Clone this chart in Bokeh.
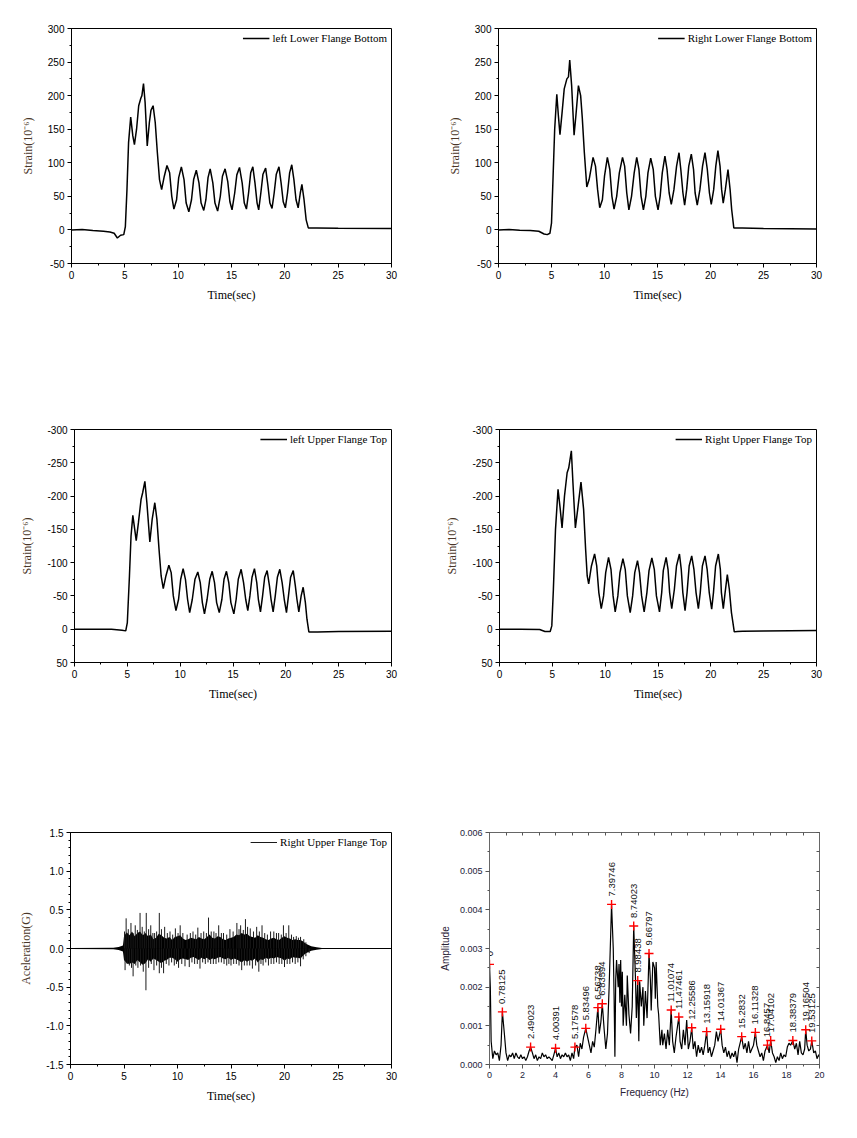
import math
from bokeh.plotting import figure
from bokeh.layouts import column, row
from bokeh.models import (Legend, LegendItem, LinearAxis, Range1d, SingleIntervalTicker,
                          PrintfTickFormatter, CustomJSTickFormatter)
from bokeh.core.properties import value
from bokeh.embed import file_html
from bokeh.resources import INLINE

SERIF = "Liberation Serif"
SANS = "Liberation Sans"
YLAB_COLOR = "#4a3628"

# ---------------- data ----------------
left_lower_flange_bottom = [
    (0, 0), (1, 0.5), (2, -1), (3, -2), (3.6, -3), (4.0, -5), (4.3, -12), (4.6, -8), (4.9, -7),
    (5.05, 5), (5.2, 60), (5.35, 130), (5.55, 168), (5.75, 140), (5.9, 127), (6.1, 150), (6.3, 185),
    (6.5, 196), (6.6, 200), (6.75, 218), (6.9, 190), (7.1, 125), (7.3, 160), (7.45, 178), (7.65, 185),
    (7.85, 160), (8.05, 115), (8.25, 75), (8.45, 60), (8.7, 80), (8.95, 96), (9.2, 85), (9.4, 50),
    (9.6, 31), (9.85, 45), (10.05, 78), (10.3, 94), (10.55, 75), (10.75, 40), (11.0, 27), (11.25, 45),
    (11.45, 75), (11.7, 89), (11.95, 70), (12.15, 40), (12.4, 29), (12.6, 45), (12.8, 78), (13.0, 91),
    (13.25, 70), (13.45, 40), (13.7, 28), (13.95, 50), (14.15, 80), (14.4, 91), (14.65, 72), (14.85, 42),
    (15.05, 30), (15.3, 55), (15.5, 82), (15.75, 93), (16.0, 70), (16.2, 40), (16.4, 31), (16.6, 55),
    (16.8, 85), (17.0, 94), (17.2, 70), (17.4, 40), (17.55, 30), (17.75, 55), (17.95, 83), (18.2, 92),
    (18.4, 68), (18.6, 40), (18.8, 32), (19.0, 55), (19.2, 83), (19.45, 94), (19.65, 70), (19.85, 42),
    (20.05, 33), (20.25, 55), (20.45, 85), (20.65, 97), (20.85, 75), (21.05, 45), (21.25, 33),
    (21.45, 55), (21.6, 68), (21.8, 45), (22.0, 15), (22.2, 3), (22.4, 3), (23, 3), (25, 2.5), (30, 2),
]

right_lower_flange_bottom = [
    (0, 0), (1, 0.5), (2, -0.5), (3, -1), (3.8, -2), (4.3, -6), (4.6, -7), (4.85, -5), (5.0, 10),
    (5.15, 80), (5.3, 150), (5.5, 202), (5.65, 170), (5.8, 142), (6.0, 175), (6.2, 210), (6.45, 225),
    (6.6, 228), (6.72, 253), (6.9, 215), (7.13, 141), (7.3, 170), (7.54, 215), (7.75, 200), (7.9, 168),
    (8.1, 115), (8.33, 64), (8.55, 75), (8.92, 108), (9.15, 95), (9.35, 60), (9.55, 33), (9.8, 45),
    (10.0, 80), (10.27, 108), (10.5, 90), (10.7, 50), (10.9, 31), (11.15, 50), (11.4, 85), (11.7, 108),
    (11.9, 95), (12.1, 55), (12.3, 30), (12.55, 50), (12.8, 85), (13.04, 108), (13.25, 90), (13.45, 50),
    (13.67, 30), (13.9, 50), (14.1, 85), (14.36, 107), (14.6, 90), (14.8, 50), (15.05, 30), (15.25, 50),
    (15.45, 85), (15.7, 110), (15.9, 90), (16.1, 55), (16.3, 38), (16.55, 60), (16.8, 95), (17.03, 115),
    (17.2, 90), (17.4, 55), (17.56, 37), (17.75, 60), (17.95, 95), (18.19, 113), (18.4, 90), (18.55, 55),
    (18.75, 37), (19.0, 60), (19.25, 95), (19.48, 115), (19.7, 90), (19.9, 55), (20.07, 38), (20.3, 60),
    (20.5, 95), (20.7, 118), (20.9, 95), (21.05, 60), (21.2, 40), (21.4, 60), (21.65, 90), (21.85, 60),
    (22.0, 30), (22.2, 3), (22.5, 3), (23, 3), (25, 2), (30, 1.5),
]

left_upper_flange_top = [
    (0, 0), (2, 0), (3.5, 0), (4.5, 1.5), (4.85, 2.5), (5.0, -10), (5.2, -80), (5.35, -140), (5.52, -171),
    (5.7, -150), (5.84, -133), (6.05, -160), (6.3, -195), (6.45, -205), (6.66, -222), (6.85, -190),
    (7.13, -131), (7.35, -165), (7.6, -190), (7.8, -165), (8.0, -120), (8.2, -80), (8.4, -61), (8.65, -80),
    (8.93, -96), (9.15, -85), (9.35, -50), (9.6, -28), (9.85, -45), (10.05, -75), (10.28, -91), (10.5, -75),
    (10.7, -45), (10.9, -25), (11.15, -45), (11.4, -75), (11.67, -86), (11.9, -70), (12.1, -40), (12.3, -23),
    (12.55, -45), (12.8, -75), (13.03, -87), (13.25, -70), (13.45, -40), (13.7, -25), (13.95, -45),
    (14.15, -75), (14.38, -87), (14.6, -70), (14.8, -40), (15.08, -23), (15.3, -45), (15.5, -75),
    (15.77, -90), (16.0, -70), (16.2, -45), (16.4, -28), (16.6, -50), (16.8, -78), (17.03, -91),
    (17.25, -70), (17.4, -45), (17.6, -26), (17.8, -50), (18.0, -78), (18.23, -88), (18.45, -65),
    (18.6, -45), (18.8, -26), (19.0, -50), (19.2, -78), (19.43, -90), (19.65, -70), (19.85, -45),
    (20.06, -25), (20.25, -50), (20.45, -78), (20.7, -88), (20.9, -65), (21.05, -45), (21.23, -26),
    (21.45, -50), (21.64, -63), (21.85, -40), (22.0, -15), (22.18, 4), (22.5, 4), (23, 4), (25, 3.5), (30, 3),
]

right_upper_flange_top = [
    (0, 0), (2, 0), (3.8, 0.5), (4.3, 3.5), (4.8, 3.5), (4.95, -5), (5.1, -60), (5.3, -150), (5.54, -210),
    (5.75, -180), (5.92, -152), (6.15, -200), (6.4, -235), (6.55, -242), (6.8, -268), (6.95, -220),
    (7.18, -152), (7.4, -180), (7.71, -221), (7.96, -180), (8.15, -120), (8.3, -80), (8.44, -68), (8.7, -95),
    (9.0, -113), (9.2, -95), (9.4, -55), (9.63, -31), (9.85, -50), (10.05, -85), (10.32, -108), (10.55, -90),
    (10.75, -50), (10.95, -26), (11.2, -50), (11.4, -85), (11.68, -106), (11.9, -90), (12.1, -50),
    (12.37, -25), (12.6, -50), (12.8, -85), (13.06, -103), (13.25, -85), (13.45, -50), (13.69, -26),
    (13.95, -55), (14.15, -88), (14.42, -107), (14.65, -90), (14.85, -50), (15.14, -26), (15.35, -55),
    (15.5, -88), (15.77, -108), (15.95, -90), (16.1, -55), (16.3, -31), (16.55, -60), (16.75, -95),
    (17.03, -113), (17.2, -90), (17.35, -55), (17.56, -28), (17.75, -55), (17.95, -95), (18.19, -110),
    (18.4, -90), (18.6, -55), (18.82, -31), (19.0, -55), (19.2, -95), (19.45, -110), (19.65, -90),
    (19.85, -55), (20.08, -30), (20.25, -55), (20.45, -95), (20.71, -113), (20.9, -90), (21.0, -55),
    (21.18, -31), (21.35, -55), (21.56, -82), (21.75, -60), (21.95, -25), (22.22, 4), (22.5, 3.5),
    (23, 3), (25, 2.5), (30, 2),
]

# acceleration: dense core band (time, upper, lower) and individual spikes (time, peak)
accel_core = [
    (0, 0.005, -0.005), (4.0, 0.01, -0.01), (4.5, 0.02, -0.02), (4.9, 0.04, -0.04), (5.0, 0.16, -0.15),
    (5.25, 0.21, -0.19), (5.5, 0.17, -0.2), (5.75, 0.22, -0.18), (6.0, 0.16, -0.2), (6.25, 0.2, -0.15),
    (6.5, 0.22, -0.18), (6.75, 0.17, -0.21), (7.0, 0.2, -0.19), (7.25, 0.16, -0.14), (7.5, 0.18, -0.17),
    (7.75, 0.12, -0.13), (8.0, 0.14, -0.15), (8.25, 0.19, -0.17), (8.5, 0.17, -0.19), (8.75, 0.14, -0.16),
    (9.0, 0.13, -0.15), (9.25, 0.15, -0.12), (9.5, 0.11, -0.12), (9.75, 0.15, -0.14), (10, 0.16, -0.17),
    (10.25, 0.17, -0.14), (10.5, 0.13, -0.13), (10.75, 0.11, -0.14), (11, 0.12, -0.15), (11.25, 0.14, -0.12),
    (11.5, 0.13, -0.11), (11.75, 0.12, -0.13), (12, 0.15, -0.15), (12.25, 0.13, -0.12), (12.5, 0.12, -0.14),
    (12.75, 0.15, -0.12), (13, 0.18, -0.15), (13.25, 0.14, -0.13), (13.5, 0.13, -0.14), (13.75, 0.16, -0.12),
    (14, 0.15, -0.11), (14.25, 0.12, -0.13), (14.5, 0.11, -0.14), (14.75, 0.13, -0.12), (15, 0.14, -0.15),
    (15.25, 0.15, -0.13), (15.5, 0.18, -0.14), (15.75, 0.17, -0.16), (16, 0.2, -0.18), (16.25, 0.18, -0.15),
    (16.5, 0.19, -0.17), (16.75, 0.16, -0.15), (17, 0.15, -0.16), (17.25, 0.14, -0.13), (17.5, 0.17, -0.18),
    (17.75, 0.15, -0.14), (18, 0.14, -0.15), (18.25, 0.12, -0.12), (18.5, 0.11, -0.14), (18.75, 0.13, -0.12),
    (19, 0.14, -0.13), (19.25, 0.12, -0.11), (19.5, 0.11, -0.12), (19.75, 0.14, -0.13), (20, 0.16, -0.16),
    (20.25, 0.14, -0.13), (20.5, 0.13, -0.14), (20.75, 0.11, -0.11), (21, 0.12, -0.12), (21.25, 0.11, -0.12),
    (21.5, 0.11, -0.13), (21.75, 0.09, -0.09), (22, 0.06, -0.06), (22.5, 0.03, -0.03),
    (23, 0.015, -0.015), (23.5, 0.008, -0.008), (24, 0.005, -0.005), (30, 0.003, -0.003),
]
accel_spikes_up = [
    (5.05, 0.22), (5.2, 0.39), (5.4, 0.25), (5.65, 0.33), (5.85, 0.2), (6.05, 0.30), (6.25, 0.24),
    (6.5, 0.46), (6.7, 0.28), (6.9, 0.22), (7.08, 0.46), (7.3, 0.25), (7.5, 0.30), (7.7, 0.2), (7.86, 0.2),
    (8.05, 0.22), (8.3, 0.46), (8.5, 0.25), (8.8, 0.28), (9.05, 0.2), (9.3, 0.22), (9.55, 0.18), (9.8, 0.26),
    (10.05, 0.2), (10.25, 0.30), (10.5, 0.2), (10.9, 0.18), (11.2, 0.2), (11.45, 0.22), (11.7, 0.18),
    (11.9, 0.27), (12.2, 0.2), (12.45, 0.22), (12.7, 0.2), (12.9, 0.40), (13.15, 0.22), (13.4, 0.22),
    (13.6, 0.2), (13.85, 0.30), (14.1, 0.2), (14.3, 0.20), (14.6, 0.18), (14.9, 0.25), (15.2, 0.22),
    (15.55, 0.33), (15.75, 0.25), (15.9, 0.30), (16.15, 0.24), (16.35, 0.38), (16.55, 0.28), (16.8, 0.26),
    (17.1, 0.22), (17.4, 0.28), (17.65, 0.22), (17.9, 0.30), (18.15, 0.2), (18.4, 0.18), (18.7, 0.22),
    (19.0, 0.22), (19.25, 0.2), (19.45, 0.20), (19.7, 0.18), (19.9, 0.30), (20.15, 0.2), (20.4, 0.30),
    (20.65, 0.18), (20.85, 0.15), (21.1, 0.16), (21.3, 0.14), (21.5, 0.15), (21.8, 0.12), (22.0, 0.08),
]
accel_spikes_down = [
    (5.1, -0.28), (5.3, -0.2), (5.5, -0.22), (5.7, -0.25), (5.85, -0.36), (6.1, -0.22), (6.3, -0.25),
    (6.55, -0.22), (6.8, -0.30), (7.05, -0.54), (7.3, -0.25), (7.55, -0.2), (7.8, -0.28), (8.05, -0.22),
    (8.3, -0.32), (8.5, -0.25), (8.7, -0.32), (8.95, -0.2), (9.2, -0.22), (9.45, -0.18), (9.7, -0.22),
    (9.9, -0.2), (10.1, -0.25), (10.4, -0.2), (10.7, -0.23), (11.1, -0.24), (11.35, -0.18), (11.6, -0.20),
    (11.85, -0.2), (12.1, -0.26), (12.35, -0.18), (12.6, -0.20), (12.85, -0.18), (13.1, -0.20),
    (13.35, -0.2), (13.6, -0.20), (13.85, -0.18), (14.1, -0.18), (14.35, -0.2), (14.6, -0.22), (14.8, -0.2),
    (15.0, -0.22), (15.25, -0.2), (15.5, -0.20), (15.75, -0.22), (16.0, -0.28), (16.25, -0.22),
    (16.5, -0.22), (16.75, -0.22), (17.0, -0.26), (17.3, -0.22), (17.6, -0.30), (17.8, -0.2), (18.0, -0.22),
    (18.25, -0.18), (18.5, -0.22), (18.75, -0.2), (19.0, -0.20), (19.25, -0.18), (19.5, -0.20),
    (19.75, -0.2), (20.0, -0.24), (20.25, -0.2), (20.5, -0.20), (20.75, -0.18), (21.0, -0.20),
    (21.25, -0.18), (21.5, -0.23), (21.75, -0.14), (22.0, -0.10), (22.3, -0.06),
]

# FFT spectrum: (frequency Hz, amplitude x 1e-3)
fft_spectrum = [
    (0.0, 2.59), (0.05, 2.0), (0.1, 0.6), (0.2, 0.15), (0.3, 0.35), (0.4, 0.25), (0.5, 0.3), (0.6, 0.1),
    (0.7, 0.5), (0.78125, 1.36), (0.9, 0.8), (1.0, 0.3), (1.1, 0.1), (1.2, 0.25), (1.3, 0.2), (1.4, 0.3),
    (1.5, 0.15), (1.6, 0.3), (1.7, 0.2), (1.8, 0.15), (1.9, 0.25), (2.0, 0.15), (2.1, 0.2), (2.2, 0.1),
    (2.3, 0.2), (2.4, 0.35), (2.49023, 0.45), (2.6, 0.3), (2.7, 0.15), (2.8, 0.25), (2.9, 0.1), (3.0, 0.2),
    (3.1, 0.15), (3.2, 0.3), (3.3, 0.2), (3.4, 0.25), (3.5, 0.15), (3.6, 0.2), (3.7, 0.15), (3.8, 0.1),
    (3.9, 0.25), (4.00391, 0.42), (4.1, 0.2), (4.2, 0.3), (4.3, 0.15), (4.4, 0.25), (4.5, 0.2), (4.6, 0.3),
    (4.7, 0.2), (4.8, 0.25), (4.9, 0.1), (5.0, 0.3), (5.1, 0.15), (5.17578, 0.45), (5.3, 0.5), (5.4, 0.2),
    (5.5, 0.55), (5.6, 0.4), (5.7, 0.7), (5.83496, 0.935), (5.95, 0.7), (6.05, 0.5), (6.15, 0.3),
    (6.25, 0.6), (6.35, 0.45), (6.45, 0.9), (6.56738, 1.47), (6.65, 0.8), (6.75, 1.1), (6.83594, 1.57),
    (6.95, 0.9), (7.05, 0.4), (7.15, 0.8), (7.25, 2.0), (7.39746, 4.14), (7.5, 3.0), (7.55, 1.8),
    (7.6, 0.2), (7.65, 2.2), (7.7, 2.7), (7.8, 2.0), (7.85, 2.6), (7.9, 1.6), (7.95, 2.7), (8.0, 1.5),
    (8.05, 2.4), (8.1, 1.0), (8.2, 1.8), (8.3, 1.0), (8.35, 2.3), (8.45, 1.3), (8.55, 0.8), (8.65, 1.5),
    (8.74023, 3.58), (8.85, 2.2), (8.9, 1.2), (8.98438, 2.17), (9.05, 0.6), (9.1, 2.15), (9.2, 1.5),
    (9.3, 2.0), (9.35, 1.0), (9.45, 1.9), (9.55, 1.2), (9.66797, 2.87), (9.75, 2.2), (9.8, 1.4),
    (9.9, 2.65), (10.0, 2.5), (10.05, 1.7), (10.1, 2.65), (10.2, 1.5), (10.25, 1.3), (10.35, 0.5),
    (10.45, 0.9), (10.5, 0.5), (10.6, 0.8), (10.7, 0.4), (10.8, 0.9), (10.9, 0.5), (11.01074, 1.41),
    (11.1, 0.6), (11.2, 0.3), (11.3, 0.7), (11.47461, 1.23), (11.55, 0.6), (11.65, 0.4), (11.75, 0.9),
    (11.85, 0.5), (11.95, 1.15), (12.05, 0.4), (12.15, 0.6), (12.25586, 0.95), (12.35, 0.4), (12.45, 0.6),
    (12.55, 0.2), (12.65, 0.5), (12.75, 0.3), (12.85, 0.45), (12.95, 0.25), (13.05, 0.5), (13.15918, 0.85),
    (13.25, 0.3), (13.35, 0.45), (13.45, 0.2), (13.55, 0.35), (13.65, 0.5), (13.75, 0.85), (13.85, 0.6),
    (14.01367, 0.91), (14.1, 0.5), (14.2, 0.3), (14.3, 0.45), (14.4, 0.2), (14.5, 0.35), (14.6, 0.15),
    (14.7, 0.3), (14.8, 0.2), (14.9, 0.35), (15.0, 0.05), (15.1, 0.4), (15.2832, 0.72), (15.4, 0.4),
    (15.5, 0.55), (15.6, 0.3), (15.7, 0.6), (15.8, 0.3), (15.9, 0.4), (16.0, 0.5), (16.11328, 0.83),
    (16.2, 0.5), (16.3, 0.35), (16.4, 0.2), (16.5, 0.3), (16.6, 0.1), (16.7, 0.35), (16.8457, 0.5),
    (16.95, 0.3), (17.04102, 0.62), (17.15, 0.3), (17.25, 0.2), (17.35, 0.05), (17.45, 0.2), (17.55, 0.1),
    (17.65, 0.3), (17.75, 0.15), (17.85, 0.25), (17.95, 0.2), (18.05, 0.45), (18.15, 0.55), (18.25, 0.5),
    (18.38379, 0.62), (18.5, 0.4), (18.6, 0.55), (18.7, 0.25), (18.8, 0.6), (18.9, 0.3), (19.0, 0.25),
    (19.1, 0.4), (19.16504, 0.9), (19.25, 0.5), (19.35, 0.35), (19.45, 0.4), (19.53125, 0.61),
    (19.65, 0.3), (19.75, 0.35), (19.85, 0.15), (19.95, 0.25), (20.0, 0.2),
]
peak_freqs = [0.0, 0.78125, 2.49023, 4.00391, 5.17578, 5.83496, 6.56738, 6.83594, 7.39746, 8.74023,
              8.98438, 9.66797, 11.01074, 11.47461, 12.25586, 13.15918, 14.01367, 15.2832, 16.11328,
              16.8457, 17.04102, 18.38379, 19.16504, 19.53125]
peak_amps_e3 = [2.59, 1.36, 0.45, 0.42, 0.45, 0.935, 1.47, 1.57, 4.14, 3.58, 2.17, 2.87, 1.41, 1.23,
                0.95, 0.85, 0.91, 0.72, 0.83, 0.50, 0.62, 0.62, 0.90, 0.61]
peak_labels = ["0", "0.78125", "2.49023", "4.00391", "5.17578", "5.83496", "6.56738", "6.83594",
               "7.39746", "8.74023", "8.98438", "9.66797", "11.01074", "11.47461", "12.25586",
               "13.15918", "14.01367", "15.2832", "16.11328", "16.8457", "17.04102", "18.38379",
               "19.16504", "19.53125"]


# ---------------- helpers ----------------
def base_fig(w, h, bl, br, bt, bb, xr, yr, outline="black"):
    p = figure(width=w, height=h, min_border_left=bl, min_border_right=br,
               min_border_top=bt, min_border_bottom=bb,
               x_range=Range1d(*xr), y_range=Range1d(*yr),
               output_backend="svg", toolbar_location=None)
    p.xgrid.visible = False
    p.ygrid.visible = False
    p.outline_line_color = outline
    p.outline_line_alpha = 1.0
    p.outline_line_width = 1
    p.background_fill_color = "white"
    p.border_fill_color = "white"
    return p


def style_time_axes(p, y_interval, y_minor, ylabel, yfmt="%d"):
    xa = p.xaxis[0]
    ya = p.yaxis[0]
    xa.ticker = SingleIntervalTicker(interval=5, num_minor_ticks=2)
    ya.ticker = SingleIntervalTicker(interval=y_interval, num_minor_ticks=y_minor)
    ya.formatter = PrintfTickFormatter(format=yfmt)
    for ax in (xa, ya):
        ax.axis_line_color = "black"
        ax.major_tick_line_color = "black"
        ax.minor_tick_line_color = "black"
        ax.major_tick_out = 4
        ax.major_tick_in = 0
        ax.minor_tick_out = 2
        ax.minor_tick_in = 0
        ax.major_label_text_font = SANS
        ax.major_label_text_font_size = "10px"
        ax.major_label_text_color = "black"
        ax.major_label_standoff = 3
        ax.axis_label_text_font = SERIF
        ax.axis_label_text_font_style = "normal"
        ax.axis_label_text_font_size = "12px"
    xa.axis_label = "Time(sec)"
    xa.axis_label_text_color = "black"
    xa.axis_label_standoff = 6
    ya.axis_label = ylabel
    ya.axis_label_text_color = YLAB_COLOR
    ya.axis_label_standoff = 10


def add_legend(p, label, renderer):
    leg = Legend(items=[LegendItem(label=label, renderers=[renderer])], location="top_right")
    leg.border_line_color = None
    leg.background_fill_alpha = 0
    leg.label_text_font = SERIF
    leg.label_text_font_size = "11px"
    leg.label_text_color = "black"
    leg.glyph_width = 27
    leg.glyph_height = 10
    leg.label_height = 10
    leg.label_standoff = 3
    leg.margin = 4
    leg.padding = 3
    leg.spacing = 0
    p.add_layout(leg)


def strain_panel(data, label, w, h, bl, br, bt, bb, yr):
    t = [d[0] for d in data]
    v = [d[1] for d in data]
    p = base_fig(w, h, bl, br, bt, bb, (0, 30), yr)
    r = p.line(t, v, line_color="black", line_width=1.5)
    style_time_axes(p, 50, 2, "Strain(10\u207b\u2076)")
    add_legend(p, label, r)
    return p


# ---------------- panels ----------------
f1 = strain_panel(left_lower_flange_bottom, "left Lower Flange Bottom",
                  420, 408, 71, 29, 28, 145, (-50, 300))
f2 = strain_panel(right_lower_flange_bottom, "Right Lower Flange Bottom",
                  429, 408, 78, 33, 28, 145, (-50, 300))
f3 = strain_panel(left_upper_flange_top, "left Upper Flange Top",
                  420, 400, 74, 29, 21, 146, (50, -300))
f4 = strain_panel(right_upper_flange_top, "Right Upper Flange Top",
                  429, 400, 79, 33, 21, 146, (50, -300))

# acceleration panel
f5 = base_fig(420, 312, 70, 29, 21, 56, (0, 30), (-1.5, 1.5))
ct = [c[0] for c in accel_core]
cu = [c[1] for c in accel_core]
cl = [c[2] for c in accel_core]
f5.varea(x=ct, y1=cl, y2=cu, fill_color="black", fill_alpha=1.0)
f5.line(ct, [(a + b) / 2 for a, b in zip(cu, cl)], line_color="black", line_width=1)
su_t = [s[0] for s in accel_spikes_up]
su_v = [s[1] for s in accel_spikes_up]
sd_t = [s[0] for s in accel_spikes_down]
sd_v = [s[1] for s in accel_spikes_down]
f5.segment(x0=su_t, y0=[0] * len(su_t), x1=su_t, y1=su_v, line_color="#1a1a1a", line_width=1)
rs = f5.segment(x0=sd_t, y0=[0] * len(sd_t), x1=sd_t, y1=sd_v, line_color="#1a1a1a", line_width=1)
style_time_axes(f5, 0.5, 5, "Aceleration(G)", yfmt="%.1f")
add_legend(f5, "Right Upper Flange Top", rs)

# FFT panel
f6 = base_fig(429, 312, 69, 30, 24, 51, (0, 20), (0, 0.006), outline="#666666")
ff = [s[0] for s in fft_spectrum]
fa = [s[1] * 1e-3 for s in fft_spectrum]
f6.line(ff, fa, line_color="black", line_width=1.2)
pa = [a * 1e-3 for a in peak_amps_e3]
f6.scatter(peak_freqs, pa, marker="cross", size=9, line_color="red", line_width=1.4)
f6.text(x=peak_freqs, y=pa, text=peak_labels, angle=math.pi / 2, text_align="left",
        text_baseline="middle", y_offset=-8, text_font=value(SANS), text_font_size="9.5px",
        text_color="#111111")
xa = f6.xaxis[0]
ya = f6.yaxis[0]
xa.ticker = SingleIntervalTicker(interval=2, num_minor_ticks=2)
ya.ticker = SingleIntervalTicker(interval=0.001, num_minor_ticks=2)
ya.formatter = PrintfTickFormatter(format="%.3f")
for ax in (xa, ya):
    ax.axis_line_color = "#666666"
    ax.major_tick_line_color = "#555555"
    ax.minor_tick_line_color = "#555555"
    ax.major_tick_out = 4
    ax.major_tick_in = 0
    ax.minor_tick_out = 2
    ax.minor_tick_in = 0
    ax.major_label_text_font = SANS
    ax.major_label_text_font_size = "9px"
    ax.major_label_text_color = "#1c1c3a"
    ax.major_label_standoff = 3
    ax.axis_label_text_font = SANS
    ax.axis_label_text_font_style = "normal"
    ax.axis_label_text_font_size = "10px"
    ax.axis_label_text_color = "#2a2236"
xa.axis_label = "Frequency (Hz)"
xa.axis_label_standoff = 6
ya.axis_label = "Amplitude"
ya.axis_label_standoff = 6
top_ax = LinearAxis(ticker=SingleIntervalTicker(interval=1, num_minor_ticks=0),
                    formatter=CustomJSTickFormatter(code="return '';"),
                    major_tick_in=3, major_tick_out=0,
                    minor_tick_in=0, minor_tick_out=0, axis_line_color="#666666",
                    major_tick_line_color="#555555", major_label_standoff=0)
right_ax = LinearAxis(ticker=SingleIntervalTicker(interval=0.0005, num_minor_ticks=0),
                      formatter=CustomJSTickFormatter(code="return '';"),
                      major_tick_in=3, major_tick_out=0,
                      minor_tick_in=0, minor_tick_out=0, axis_line_color="#666666",
                      major_tick_line_color="#555555", major_label_standoff=0)
f6.add_layout(top_ax, "above")
f6.add_layout(right_ax, "right")

layout = column(row(f1, f2), row(f3, f4), row(f5, f6))

with open("out.html", "w") as fh:
    fh.write(file_html(layout, INLINE))
